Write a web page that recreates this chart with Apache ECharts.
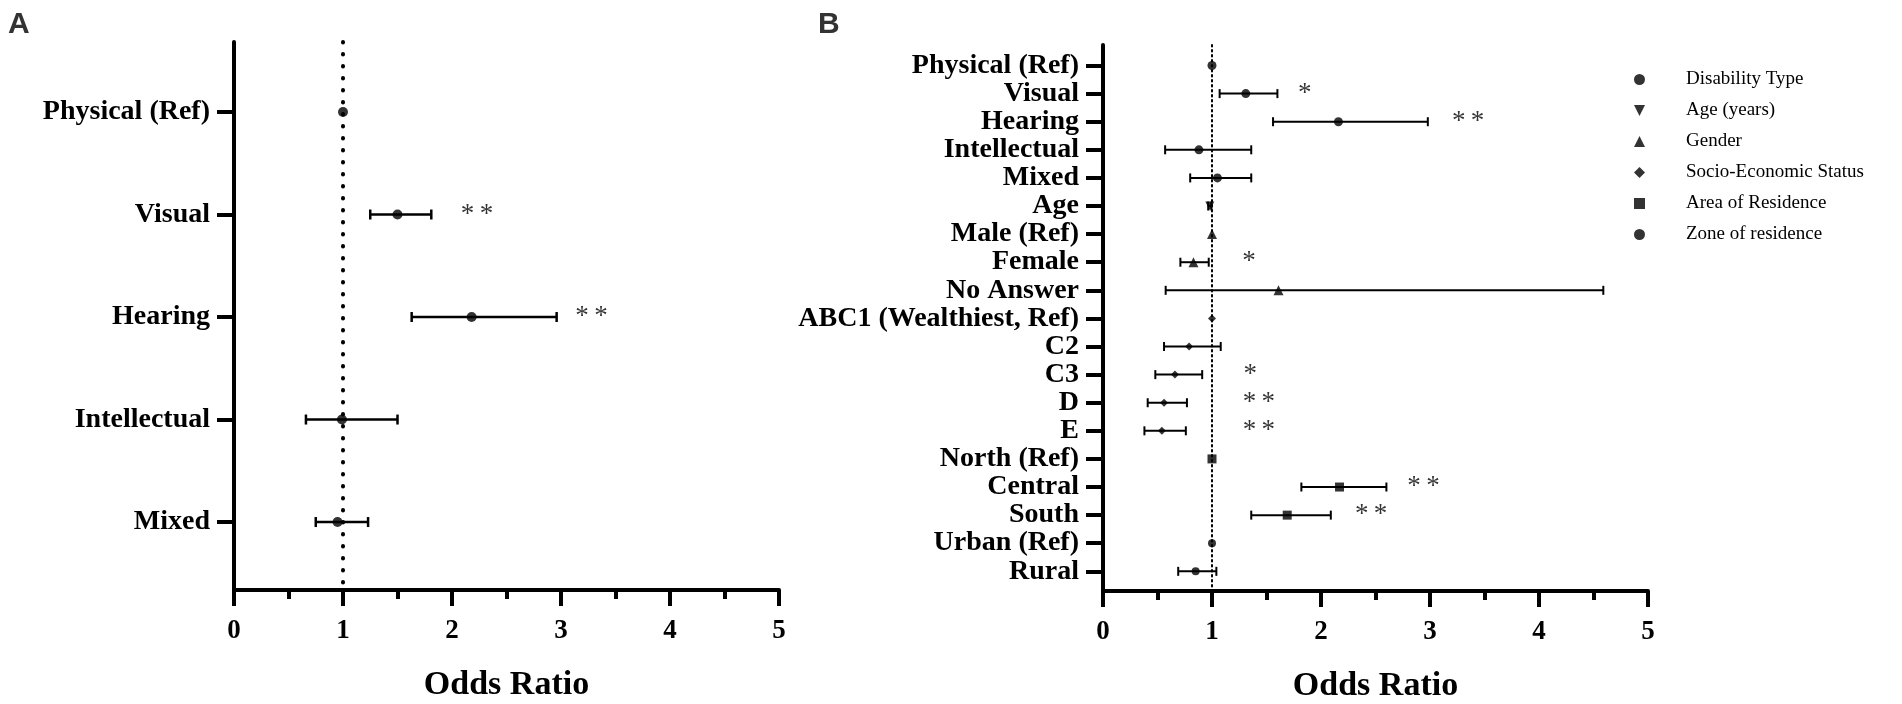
<!DOCTYPE html>
<html>
<head>
<meta charset="utf-8">
<title>Odds Ratio</title>
<script src="https://cdn.jsdelivr.net/npm/echarts@6/dist/echarts.min.js"></script>
<style>
  html, body { margin: 0; padding: 0; background: #fff; }
  #chart { width: 1902px; height: 704px; }
</style>
</head>
<body>
<div id="chart"></div>
<script>
// panel A: disability type only
var catsa = ['Physical (Ref)', 'Visual', 'Hearing', 'Intellectual', 'Mixed'];
var ora = [1, 1.50, 2.18, 0.99, 0.95];
var loa = [null, 1.25, 1.63, 0.66, 0.75];
var hia = [null, 1.81, 2.96, 1.50, 1.23];
var starsa = [null, '*\u2009*', '*\u2009*', null, null];
var starxa = [null, 2.23, 3.28, null, null];

// panel B: all covariates
var catsb = ['Physical (Ref)', 'Visual', 'Hearing', 'Intellectual', 'Mixed', 'Age',
  'Male (Ref)', 'Female', 'No Answer', 'ABC1 (Wealthiest, Ref)', 'C2', 'C3', 'D', 'E',
  'North (Ref)', 'Central', 'South', 'Urban (Ref)', 'Rural'];
var groupb = [0, 0, 0, 0, 0, 1, 2, 2, 2, 3, 3, 3, 3, 3, 4, 4, 4, 5, 5];
var orb = [1, 1.31, 2.16, 0.88, 1.05, 0.98, 1, 0.83, 1.61, 1, 0.79, 0.66, 0.56, 0.54,
  1, 2.17, 1.69, 1, 0.85];
var lob = [null, 1.07, 1.56, 0.57, 0.80, 0.965, null, 0.71, 0.575, null, 0.56, 0.48, 0.41, 0.38,
  null, 1.82, 1.36, null, 0.69];
var hib = [null, 1.60, 2.98, 1.36, 1.36, 0.995, null, 0.97, 4.59, null, 1.08, 0.91, 0.77, 0.76,
  null, 2.60, 2.09, null, 1.04];
var starsb = [null, '*', '*\u2009*', null, null, null, null, '*', null, null, null, '*', '*\u2009*', '*\u2009*',
  null, '*\u2009*', '*\u2009*', null, null];
var starxb = [null, 1.85, 3.35, null, null, null, null, 1.34, null, null, null, 1.35, 1.43, 1.43,
  null, 2.94, 2.46, null, null];
var groupnames = ['Disability Type', 'Age (years)', 'Gender', 'Socio-Economic Status',
  'Area of Residence', 'Zone of residence'];
var xticks = [0, 1, 2, 3, 4, 5];

var serif = '"Liberation Serif", "Times New Roman", serif';
var symbolsb = ['circle', 'path://M0,0 L10,0 L5,10 Z', 'triangle', 'diamond', 'rect', 'circle'];
var sizesb = [9, 9, 10, 8, 9, 8];

var chart = echarts.init(document.getElementById('chart'));

// error bar with caps
var errbar = function (caph, lw) {
  return function (params, api) {
    var y = api.value(2);
    var p1 = api.coord([api.value(0), y]);
    var p2 = api.coord([api.value(1), y]);
    var st = { stroke: '#000', lineWidth: lw };
    return {
      type: 'group',
      children: [
        { type: 'line', shape: { x1: p1[0], y1: p1[1], x2: p2[0], y2: p2[1] }, style: st },
        { type: 'line', shape: { x1: p1[0], y1: p1[1] - caph, x2: p1[0], y2: p1[1] + caph }, style: st },
        { type: 'line', shape: { x1: p2[0], y1: p2[1] - caph, x2: p2[0], y2: p2[1] + caph }, style: st }
      ]
    };
  };
};

var cidata = function (lo, hi) {
  var out = [];
  for (var i = 0; i < lo.length; i++) {
    if (lo[i] !== null) out.push([lo[i], hi[i], i]);
  }
  return out;
};

var stardata = function (stars, xs) {
  var out = [];
  for (var i = 0; i < stars.length; i++) {
    if (stars[i]) out.push([xs[i], i, stars[i]]);
  }
  return out;
};

var xaxis = function (gi) {
  return {
    type: 'value', gridIndex: gi, min: 0, max: 5, interval: 1,
    name: 'Odds Ratio', nameLocation: 'middle', nameGap: 78,
    nameTextStyle: { fontFamily: serif, fontWeight: 'bold', fontSize: 34, color: '#000' },
    axisLine: { show: true, onZero: false, lineStyle: { color: '#000', width: 4 } },
    axisTick: { show: true, length: 16, lineStyle: { color: '#000', width: 4 } },
    minorTick: { show: true, splitNumber: 2, length: 9, lineStyle: { color: '#000', width: 4 } },
    axisLabel: {
      margin: 28, fontFamily: serif, fontWeight: 'bold', fontSize: 27, color: '#000',
      customValues: xticks
    },
    splitLine: { show: false }
  };
};

var yaxis = function (gi, cats, lo, hi) {
  var idx = cats.map(function (c, i) { return i; });
  return {
    type: 'value', gridIndex: gi, inverse: true, min: lo, max: hi,
    axisLine: { show: true, onZero: false, lineStyle: { color: '#000', width: 4 } },
    axisTick: { show: true, length: 17, customValues: idx, lineStyle: { color: '#000', width: 4 } },
    axisLabel: {
      margin: 24, fontFamily: serif, fontWeight: 'bold', fontSize: 28, color: '#000',
      customValues: idx,
      formatter: function (v) { return cats[Math.round(v)]; }
    },
    splitLine: { show: false }
  };
};

var refline = function (w, dash) {
  return {
    symbol: 'none', silent: true, label: { show: false },
    lineStyle: { color: '#000', width: w, type: dash, cap: 'round' },
    data: [{ xAxis: 1 }]
  };
};

var starseries = function (gi, data) {
  return {
    type: 'scatter', xAxisIndex: gi, yAxisIndex: gi, data: data,
    symbolSize: 0, silent: true, z: 5,
    label: {
      show: true, position: 'inside', fontFamily: serif, fontSize: 27, color: '#000',
      formatter: function (p) { return p.value[2]; }
    }
  };
};

var series = [
  {
    type: 'custom', xAxisIndex: 0, yAxisIndex: 0, renderItem: errbar(5, 2.5),
    encode: { x: [0, 1], y: 2 }, data: cidata(loa, hia), silent: true
  },
  {
    type: 'scatter', name: 'A', xAxisIndex: 0, yAxisIndex: 0, symbol: 'circle', symbolSize: 10,
    itemStyle: { color: '#000' }, z: 4,
    data: ora.map(function (v, i) { return [v, i]; }),
    markLine: refline(4, [0.5, 11.5])
  },
  starseries(0, stardata(starsa, starxa)),
  {
    type: 'custom', xAxisIndex: 1, yAxisIndex: 1, renderItem: errbar(4.5, 2),
    encode: { x: [0, 1], y: 2 }, data: cidata(lob, hib), silent: true,
    markLine: refline(2, [1.5, 3.5])
  },
  starseries(1, stardata(starsb, starxb))
];

// one scatter series per covariate group, so the legend picks the symbols up
groupnames.forEach(function (name, g) {
  var pts = [];
  for (var i = 0; i < catsb.length; i++) {
    if (groupb[i] === g) pts.push([orb[i], i]);
  }
  series.push({
    type: 'scatter', name: name, xAxisIndex: 1, yAxisIndex: 1,
    symbol: symbolsb[g], symbolSize: sizesb[g], symbolKeepAspect: true,
    itemStyle: { color: '#000' }, z: 4, data: pts
  });
});

chart.setOption({
  animation: false,
  backgroundColor: '#fff',
  grid: [
    { left: 234, top: 42, width: 545, height: 548, outerBoundsMode: 'none' },
    { left: 1103, top: 45, width: 545, height: 546, outerBoundsMode: 'none' }
  ],
  xAxis: [xaxis(0), xaxis(1)],
  yAxis: [
    yaxis(0, catsa, -0.683, 4.663),
    yaxis(1, catsb, -0.73, 18.7)
  ],
  legend: {
    data: groupnames, orient: 'vertical', left: 1629, top: 65,
    itemWidth: 11, itemHeight: 11, itemGap: 12, selectedMode: false,
    textStyle: { fontFamily: serif, fontSize: 19, color: '#000', padding: [0, 0, 0, 36] }
  },
  graphic: [
    { type: 'text', left: 8, top: 10, style: { text: 'A', font: 'bold 30px "Liberation Sans", Arial, sans-serif', fill: '#333' } },
    { type: 'text', left: 818, top: 10, style: { text: 'B', font: 'bold 30px "Liberation Sans", Arial, sans-serif', fill: '#333' } }
  ],
  series: series
});
</script>
</body>
</html>
